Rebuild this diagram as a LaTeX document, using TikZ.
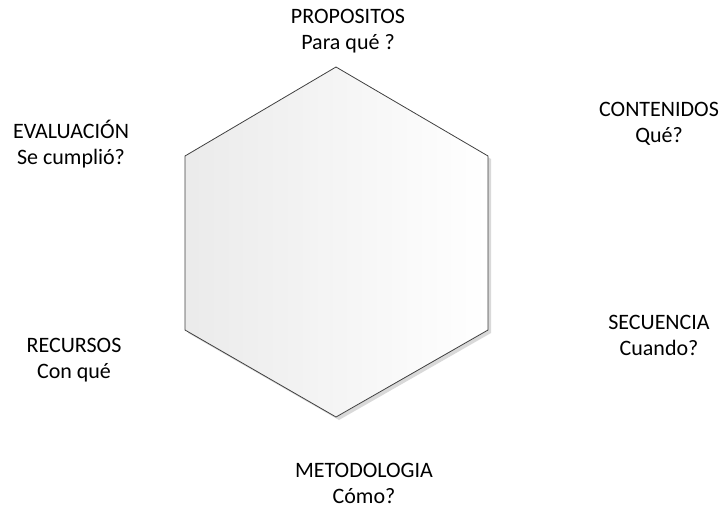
\documentclass[tikz,border=0pt]{standalone}
\usepackage{fontspec}
\setmainfont{Carlito}
\usetikzlibrary{shadows}
\begin{document}
\begin{tikzpicture}[x=1pt,y=-1pt,
  label/.style={align=center,font=\fontsize{22}{26}\selectfont,inner sep=0pt},
  hexa/.style={draw=black!75,line width=0.8pt,left color=black!8,right color=white,
    drop shadow={shadow xshift=3pt,shadow yshift=-3pt,fill=black!25,opacity=0.6}}]
  \useasboundingbox (0,0) rectangle (722,508);
  % the hexagon
  \coordinate (t) at (336,67);
  \coordinate (ur) at (488,156);
  \coordinate (lr) at (488,330);
  \coordinate (b) at (336,417);
  \coordinate (ll) at (185,330);
  \coordinate (ul) at (185,156);
  \path[hexa] (t) -- (ur) -- (lr) -- (b) -- (ll) -- (ul) -- cycle;
  % labels around it
  \node[label] (prop) at (348,31) {PROPOSITOS\\Para qué ?};
  \node[label] (cont) at (659,124) {CONTENIDOS\\Qué?};
  \node[label] (eval) at (71,144) {EVALUACIÓN\\Se cumplió?};
  \node[label] (secu) at (659,335) {SECUENCIA\\Cuando?};
  \node[label] (recu) at (74,360) {RECURSOS\\Con qué};
  \node[label] (meto) at (364,483) {METODOLOGIA\\Cómo?};
\end{tikzpicture}
\end{document}
